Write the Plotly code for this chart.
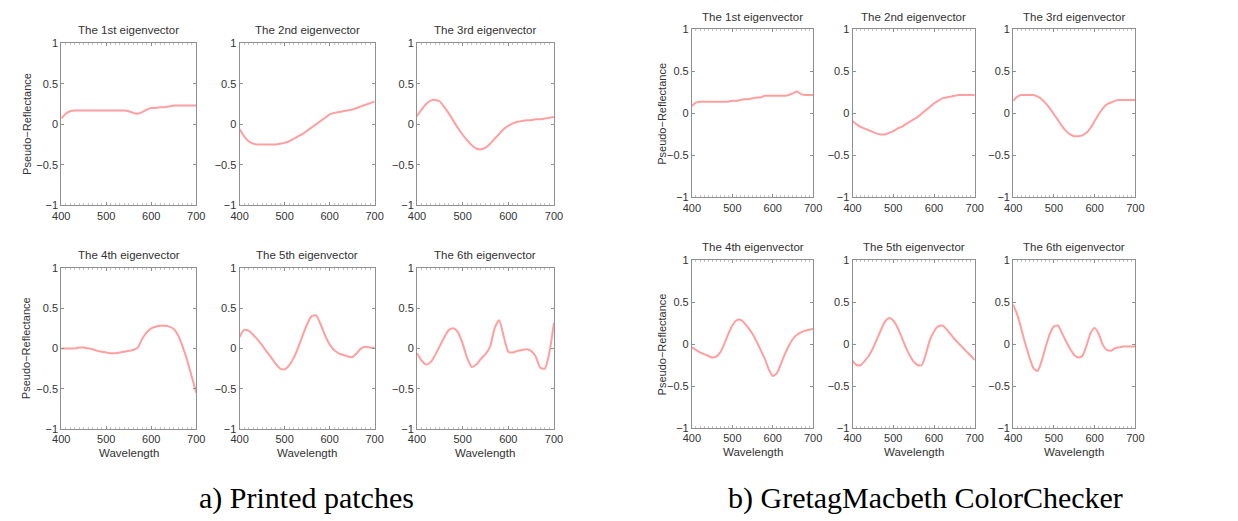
import plotly.graph_objects as go

# ---------------- data ----------------
wavelength = list(range(400, 701, 10))

# a) Printed patches
printed_1 = [0.07, 0.13, 0.16, 0.17, 0.17, 0.17, 0.17, 0.17, 0.17, 0.17, 0.17, 0.17, 0.17, 0.17, 0.17, 0.16,
             0.14, 0.13, 0.15, 0.18, 0.20, 0.20, 0.21, 0.21, 0.22, 0.23, 0.23, 0.23, 0.23, 0.23, 0.23]
printed_2 = [-0.06, -0.15, -0.21, -0.24, -0.25, -0.25, -0.25, -0.25, -0.25, -0.24, -0.23, -0.21, -0.18, -0.15,
             -0.12, -0.08, -0.04, 0.0, 0.04, 0.08, 0.12, 0.14, 0.15, 0.16, 0.17, 0.18, 0.20, 0.22, 0.24, 0.26, 0.28]
printed_3 = [0.10, 0.18, 0.25, 0.29, 0.30, 0.28, 0.21, 0.13, 0.04, -0.05, -0.13, -0.20, -0.26, -0.30, -0.31,
             -0.29, -0.24, -0.18, -0.12, -0.06, -0.02, 0.01, 0.03, 0.04, 0.05, 0.05, 0.06, 0.06, 0.07, 0.08, 0.09]
printed_4 = [0.0, 0.0, 0.0, 0.0, 0.01, 0.01, 0.0, -0.01, -0.03, -0.04, -0.05, -0.06, -0.06, -0.05, -0.04, -0.03,
             -0.02, 0.01, 0.12, 0.20, 0.25, 0.27, 0.28, 0.28, 0.27, 0.24, 0.16, 0.02, -0.15, -0.35, -0.55]
printed_5 = [0.14, 0.23, 0.22, 0.17, 0.11, 0.04, -0.04, -0.11, -0.19, -0.25, -0.26, -0.21, -0.12, 0.01, 0.16,
             0.30, 0.40, 0.41, 0.30, 0.16, 0.05, -0.02, -0.06, -0.08, -0.10, -0.11, -0.06, 0.0, 0.02, 0.01, 0.01]
printed_6 = [-0.06, -0.15, -0.20, -0.17, -0.08, 0.03, 0.14, 0.23, 0.25, 0.20, 0.06, -0.12, -0.23, -0.20, -0.13,
             -0.07, 0.02, 0.25, 0.35, 0.15, -0.04, -0.05, -0.03, -0.02, -0.01, -0.03, -0.10, -0.24, -0.25, -0.05, 0.32]

# b) GretagMacbeth ColorChecker
checker_1 = [0.09, 0.13, 0.14, 0.14, 0.14, 0.14, 0.14, 0.14, 0.14, 0.14, 0.15, 0.15, 0.16, 0.17, 0.17, 0.18,
             0.19, 0.19, 0.21, 0.21, 0.21, 0.21, 0.21, 0.21, 0.22, 0.24, 0.26, 0.23, 0.22, 0.22, 0.22]
checker_2 = [-0.09, -0.13, -0.16, -0.18, -0.20, -0.22, -0.24, -0.25, -0.25, -0.23, -0.21, -0.18, -0.16, -0.13,
             -0.10, -0.07, -0.04, 0.0, 0.04, 0.08, 0.12, 0.15, 0.18, 0.19, 0.20, 0.21, 0.22, 0.22, 0.22, 0.22, 0.22]
checker_3 = [0.15, 0.20, 0.22, 0.22, 0.22, 0.22, 0.20, 0.17, 0.12, 0.06, -0.01, -0.08, -0.15, -0.21, -0.25,
             -0.27, -0.27, -0.26, -0.23, -0.17, -0.09, -0.01, 0.06, 0.11, 0.13, 0.15, 0.16, 0.16, 0.16, 0.16, 0.16]
checker_4 = [-0.04, -0.07, -0.10, -0.12, -0.14, -0.16, -0.15, -0.10, 0.0, 0.12, 0.22, 0.28, 0.29, 0.25, 0.19,
             0.12, 0.03, -0.07, -0.17, -0.30, -0.38, -0.35, -0.24, -0.12, -0.02, 0.06, 0.11, 0.14, 0.16, 0.17, 0.18]
checker_5 = [-0.20, -0.25, -0.25, -0.20, -0.14, -0.05, 0.06, 0.17, 0.27, 0.31, 0.28, 0.20, 0.09, -0.03, -0.13,
             -0.21, -0.25, -0.25, -0.12, 0.05, 0.15, 0.21, 0.22, 0.18, 0.12, 0.06, 0.01, -0.04, -0.09, -0.14, -0.19]
checker_6 = [0.47, 0.35, 0.18, 0.0, -0.16, -0.29, -0.32, -0.20, -0.03, 0.12, 0.21, 0.22, 0.13, 0.03, -0.06,
             -0.13, -0.16, -0.14, -0.02, 0.13, 0.19, 0.12, -0.01, -0.07, -0.08, -0.05, -0.04, -0.03, -0.03, -0.03, -0.03]

panel_titles = ["The 1st eigenvector", "The 2nd eigenvector", "The 3rd eigenvector",
                "The 4th eigenvector", "The 5th eigenvector", "The 6th eigenvector"]
y_tick_values = [-1, -0.5, 0, 0.5, 1]
y_tick_labels = ["\u22121", "\u22120.5", "0", "0.5", "1"]
x_tick_values = [400, 500, 600, 700]
x_tick_labels = ["400", "500", "600", "700"]
y_axis_label = "Pseudo\u2212Reflectance"
x_axis_label = "Wavelength"
captions = ["a) Printed patches", "b) GretagMacbeth ColorChecker"]

groups = [
    [printed_1, printed_2, printed_3, printed_4, printed_5, printed_6],
    [checker_1, checker_2, checker_3, checker_4, checker_5, checker_6],
]

# ---------------- layout (pixels) ----------------
W, H = 1238, 521
group_cols = [
    [(53, 190), (234, 371), (414, 553)],
    [(693, 816), (856, 980), (1019, 1143)],
]
group_rows = [
    [(38, 204), (268, 433)],
    [(24, 196), (260, 432)],
]
ylabel_offset = [35, 30]
caption_x = [302, 930]
caption_y = 504

LINE_COLOR = "#ff9f9f"
AXIS_COLOR = "#8f8f8f"
TEXT_COLOR = "#333333"
SANS = "Liberation Sans, Arial, sans-serif"
SERIF = "Liberation Serif, Times New Roman, serif"


def px_x(v):
    return v / W


def px_y(v):
    return 1 - v / H


fig = go.Figure()
annotations = []
idx = 0
for g in range(2):
    for r in range(2):
        for c in range(3):
            idx += 1
            sfx = "" if idx == 1 else str(idx)
            x0, x1 = group_cols[g][c]
            y0, y1 = group_rows[g][r]
            k = r * 3 + c
            fig.add_trace(go.Scatter(
                x=wavelength, y=groups[g][k], mode="lines",
                line=dict(color=LINE_COLOR, width=2, shape="spline", smoothing=0.6),
                xaxis="x" + sfx, yaxis="y" + sfx, showlegend=False, hoverinfo="skip",
            ))
            common = dict(showgrid=False, zeroline=False, showline=True, linecolor=AXIS_COLOR,
                          linewidth=1, mirror="ticks", ticks="inside", ticklen=3,
                          tickcolor=AXIS_COLOR, tickfont=dict(family=SANS, size=11, color=TEXT_COLOR))
            fig.layout["xaxis" + sfx] = dict(
                domain=[px_x(x0), px_x(x1)], anchor="y" + sfx, range=[400, 700],
                tickvals=x_tick_values, ticktext=x_tick_labels,
                minor=dict(dtick=10, tick0=400, ticks="inside", ticklen=2, tickcolor="#c4c4c4"),
                **common)
            fig.layout["yaxis" + sfx] = dict(
                domain=[px_y(y1), px_y(y0)], anchor="x" + sfx, range=[-1, 1],
                tickvals=y_tick_values, ticktext=y_tick_labels, **common)
            annotations.append(dict(
                text=panel_titles[k], xref="paper", yref="paper",
                x=px_x((x0 + x1) / 2), y=px_y(y0 - 13), xanchor="center", yanchor="middle",
                showarrow=False, font=dict(family=SANS, size=11.5, color=TEXT_COLOR)))
            if c == 0:
                annotations.append(dict(
                    text=y_axis_label, xref="paper", yref="paper", textangle=-90,
                    x=px_x(x0 - ylabel_offset[g]), y=px_y((y0 + y1) / 2),
                    xanchor="center", yanchor="middle",
                    showarrow=False, font=dict(family=SANS, size=11, color=TEXT_COLOR)))
            if r == 1:
                annotations.append(dict(
                    text=x_axis_label, xref="paper", yref="paper",
                    x=px_x((x0 + x1) / 2), y=px_y(y1 + 25), xanchor="center", yanchor="middle",
                    showarrow=False, font=dict(family=SANS, size=11.5, color=TEXT_COLOR)))

for g in range(2):
    annotations.append(dict(
        text=captions[g], xref="paper", yref="paper",
        x=px_x(caption_x[g]), y=px_y(caption_y), xanchor="center", yanchor="middle",
        showarrow=False, font=dict(family=SERIF, size=30, color="#000000")))

fig.update_layout(
    width=W, height=H, margin=dict(l=0, r=0, t=0, b=0),
    paper_bgcolor="white", plot_bgcolor="white",
    annotations=annotations,
)

fig.write_html("out.html")
